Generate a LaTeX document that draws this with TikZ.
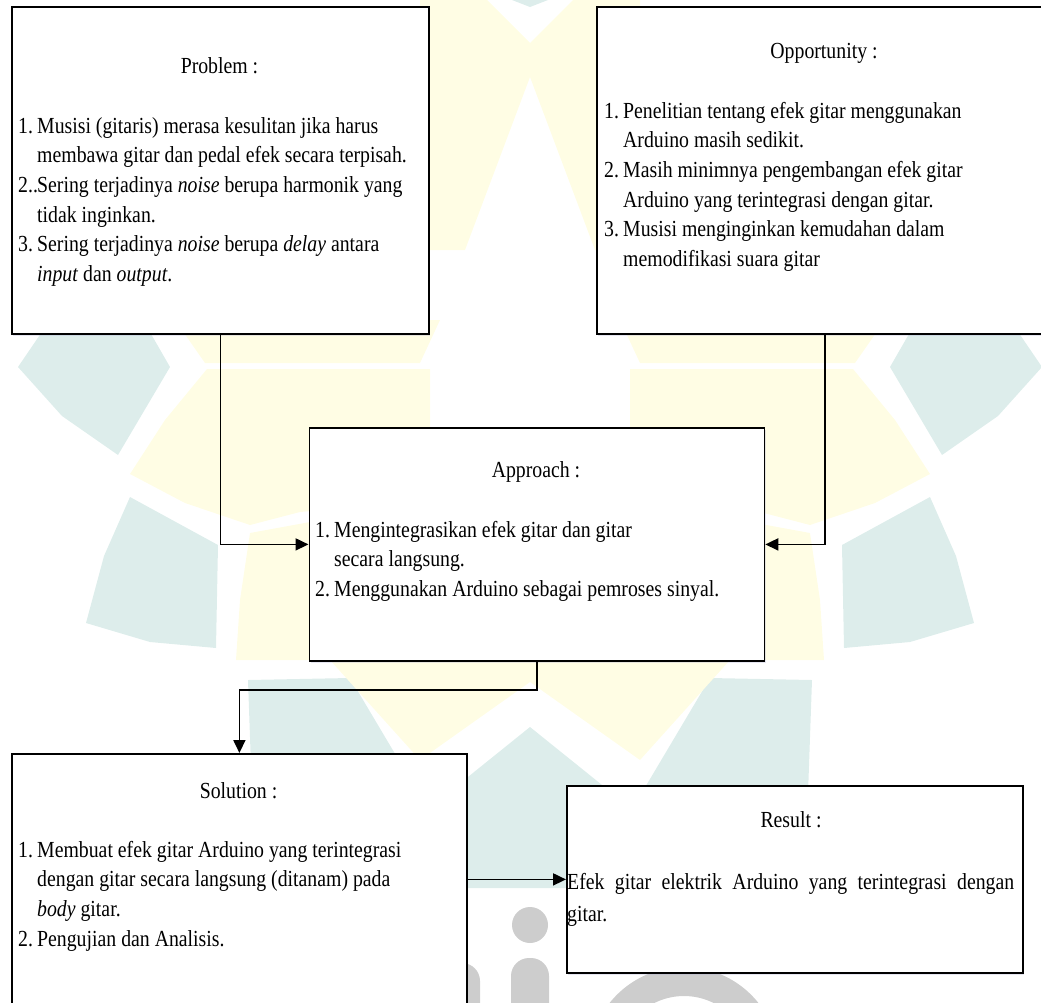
\documentclass[tikz,border=0pt]{standalone}
\usepackage{fontspec}
\setmainfont{Liberation Serif}[FakeStretch=0.86]
\usetikzlibrary{arrows.meta, shadows}
\definecolor{tosca}{RGB}{221,237,235}
\definecolor{kuning}{RGB}{255,253,228}
\definecolor{abu}{RGB}{205,205,205}
\tikzset{
	>={Triangle[length=13pt,width=12pt]}, % ujung panah segitiga penuh
	kotak/.style={draw, fill=white, line width=1.8pt, inner sep=0pt,
		drop shadow={shadow xshift=1.5pt, shadow yshift=-2pt, opacity=.25, fill=blue!30!gray!60}}, % kotak tiap bagian
	judul/.style={inner sep=0pt, anchor=base}, % judul di dalam kotak
	isi/.style={inner sep=0pt, anchor=base west, align=flush left, text width=#1}, % isi daftar
	panah/.style={->, line width=1.8pt} % garis penghubung antar kotak
}
\newcommand{\nomor}[1]{\makebox[19pt][l]{#1}}
\newcommand{\lanjut}{\hspace*{19pt}}

\begin{document}
\begin{tikzpicture}[x=1pt, y=-1pt, font=\fontsize{23}{29.7}\selectfont]
	\useasboundingbox (0,0) rectangle (1041,1002);
	\clip (0,0) rectangle (1041,1002);
	% latar (watermark)
	\fill[kuning] (420,0) -- (487,0) -- (530,43) -- (573,0) -- (640,0) -- (640,250) -- (595,250) -- (530,77) -- (465,250) -- (420,250) -- cycle;
	\fill[tosca] (512,0) -- (530,7) -- (548,0) -- cycle;
	\foreach \s/\o in {1/0, -1/1060} {
		\begin{scope}[xshift=\o pt, x=\s pt]
			\fill[kuning] (175,320) -- (205,363) -- (420,363) -- (440,320) -- cycle;
			\fill[kuning] (207,369) -- (430,369) -- (430,500) -- (300,512) -- (250,525) -- (185,503) -- (130,474) -- (165,420) -- cycle;
			\fill[kuning] (250,533) -- (310,522) -- (310,660) -- (236,660) -- (240,600) -- cycle;
			\fill[tosca] (50,320) -- (18,367) -- (62,416) -- (118,455) -- (170,367) -- (143,320) -- cycle;
			\fill[tosca] (130,497) -- (218,545) -- (216,648) -- (150,642) -- (86,623) -- (104,556) -- cycle;
			\fill[tosca] (248,680) -- (350,678) -- (470,880) -- (255,880) -- cycle;
		\end{scope}
	}
	\fill[kuning] (330,660) -- (730,660) -- (640,760) -- (530,682) -- (420,760) -- cycle;
	\fill[tosca] (530,727) -- (330,888) -- (730,888) -- cycle;
	\fill[abu] (530,925) circle (18);
	\fill[abu, rounded corners=18pt] (511,958) rectangle (549,1040);
	\fill[abu, rounded corners=18pt] (442,963) rectangle (480,1040);
	\fill[abu, even odd rule] (684,1062) circle (95) (684,1062) circle (66);
	% kotak
	\node[kotak, minimum width=417pt, minimum height=327pt, anchor=north west] (prob) at (11,6) {};
	\node[kotak, minimum width=456pt, minimum height=327pt, anchor=north west] (opp) at (596,6) {};
	\node[kotak, minimum width=455pt, minimum height=233pt, anchor=north west] (appr) at (308.5,427) {};
	\node[kotak, minimum width=455pt, minimum height=262pt, anchor=north west] (sol) at (11,753) {};
	\node[kotak, minimum width=456pt, minimum height=187pt, anchor=north west] (res) at (566,785) {};
	% panah
	\draw[panah] (prob.south) |- (appr.west);
	\draw[panah] (opp.south) |- (appr.east);
	\draw[panah] (appr.south) -- ++(0,28) -| (sol.north);
	\draw[panah] (sol.east |- res.west) -- (res.west);
	% teks
	\node[judul] (probjudul) at (219.5,73) {Problem :};
	\node[isi=405pt] (probisi) at (18,133) {\nomor{1.}Musisi (gitaris) merasa kesulitan jika harus\\
		\lanjut membawa gitar dan pedal efek secara terpisah.\\
		\nomor{2..}Sering terjadinya \textit{noise} berupa harmonik yang\\
		\lanjut tidak inginkan.\\
		\nomor{3.}Sering terjadinya \textit{noise} berupa \textit{delay} antara\\
		\lanjut\textit{input} dan \textit{output}.};
	\node[judul] (oppjudul) at (824,58) {Opportunity :};
	\node[isi=420pt] (oppisi) at (604,118) {\nomor{1.}Penelitian tentang efek gitar menggunakan\\
		\lanjut Arduino masih sedikit.\\
		\nomor{2.}Masih minimnya pengembangan efek gitar\\
		\lanjut Arduino yang terintegrasi dengan gitar.\\
		\nomor{3.}Musisi menginginkan kemudahan dalam\\
		\lanjut memodifikasi suara gitar};
	\node[judul] (apprjudul) at (536,477) {Approach :};
	\node[isi=440pt] (apprisi) at (315,537) {\nomor{1.}Mengintegrasikan efek gitar dan gitar\\
		\lanjut secara langsung.\\
		\nomor{2.}Menggunakan Arduino sebagai pemroses sinyal.};
	\node[judul] (soljudul) at (238.5,798) {Solution :};
	\node[isi=440pt] (solisi) at (18,857) {\nomor{1.}Membuat efek gitar Arduino yang terintegrasi\\
		\lanjut dengan gitar secara langsung (ditanam) pada\\
		\lanjut\textit{body} gitar.\\
		\nomor{2.}Pengujian dan Analisis.};
	\node[judul] (resjudul) at (791,827) {Result :};
	\node[isi=447pt, align=justify, font=\fontsize{23}{32}\selectfont] (resisi) at (567,889) {Efek gitar elektrik Arduino yang terintegrasi dengan\linebreak gitar.};
\end{tikzpicture}
\end{document}
